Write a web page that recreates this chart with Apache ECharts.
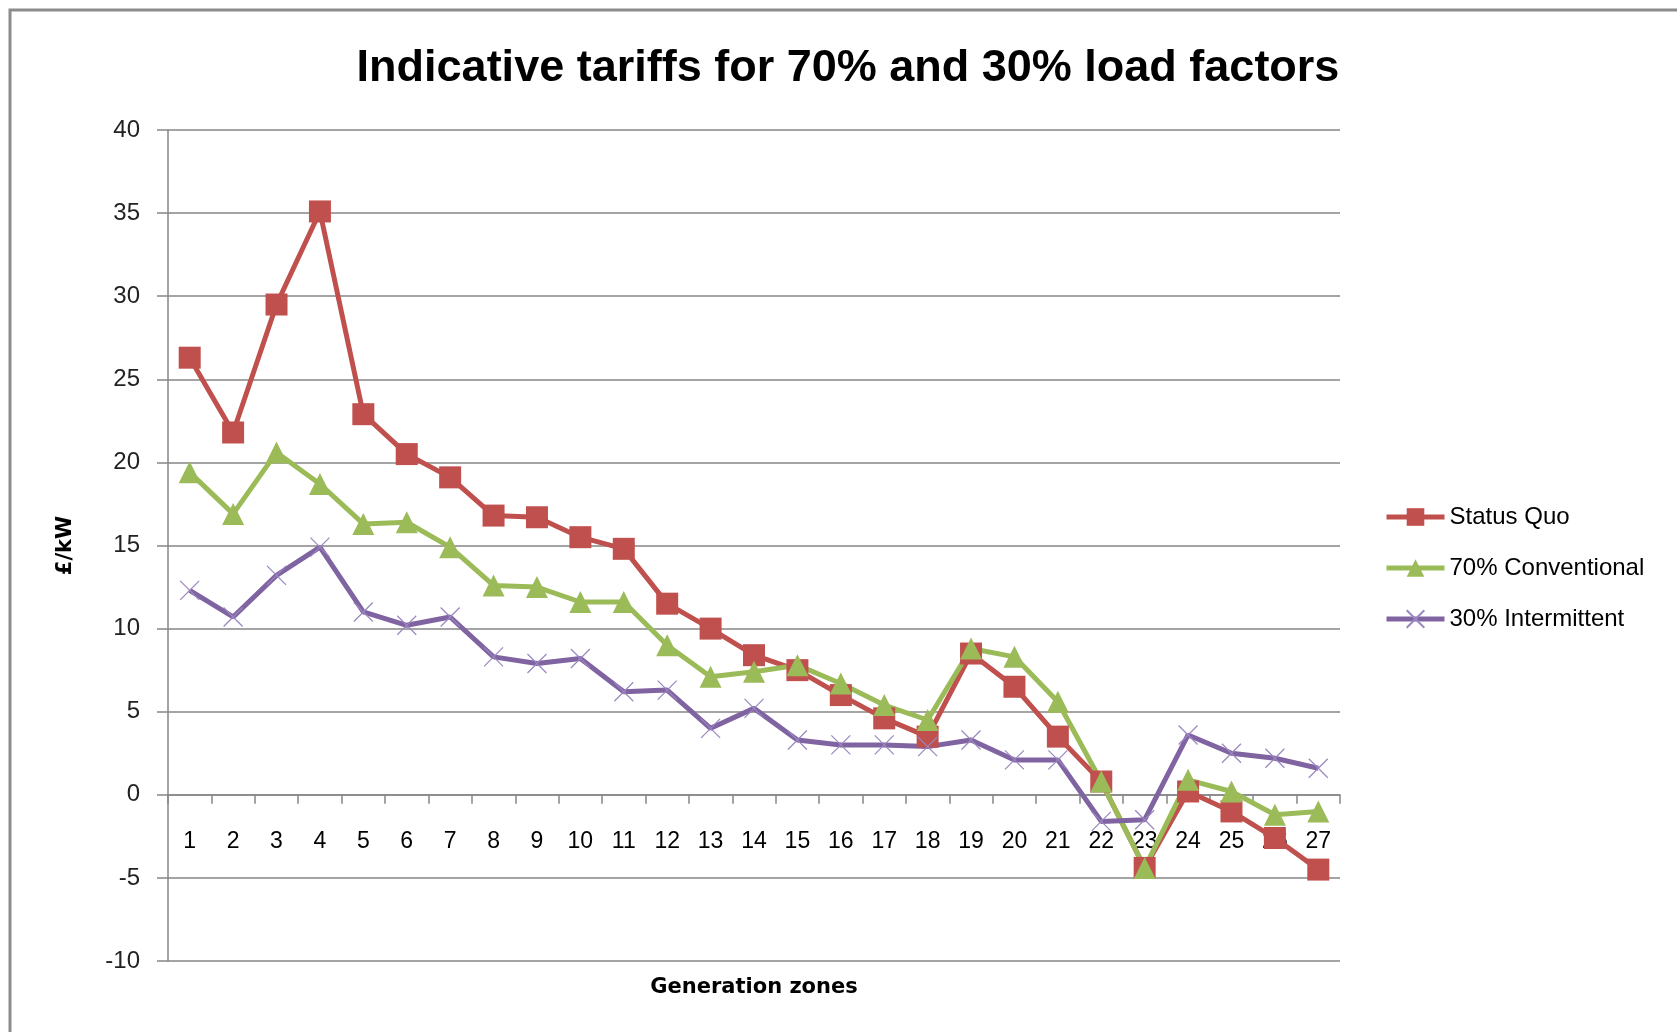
<!DOCTYPE html>
<html>
<head>
<meta charset="utf-8">
<script src="https://cdn.jsdelivr.net/npm/echarts@6/dist/echarts.min.js"></script>
<style>
html,body{margin:0;padding:0;background:#fff;}
#chart{width:1677px;height:1032px;}
</style>
</head>
<body>
<div id="chart"></div>
<script>
var titleText = 'Indicative tariffs for 70% and 30% load factors';
var xAxisName = 'Generation zones';
var yAxisName = '£/kW';
var categories = ['1','2','3','4','5','6','7','8','9','10','11','12','13','14','15','16','17','18','19','20','21','22','23','24','25','26','27'];
var seriesNames = ['Status Quo', '70% Conventional', '30% Intermittent'];
var statusQuo = [26.3, 21.8, 29.5, 35.1, 22.9, 20.5, 19.1, 16.8, 16.7, 15.5, 14.8, 11.5, 10.0, 8.4, 7.5, 6.0, 4.6, 3.5, 8.5, 6.5, 3.5, 0.8, -4.4, 0.2, -1.0, -2.6, -4.5];
var conventional70 = [19.4, 16.9, 20.6, 18.7, 16.3, 16.4, 14.9, 12.6, 12.5, 11.6, 11.6, 9.0, 7.1, 7.4, 7.8, 6.7, 5.4, 4.5, 8.8, 8.3, 5.6, 0.8, -4.4, 0.9, 0.2, -1.2, -1.0];
var intermittent30 = [12.3, 10.7, 13.2, 14.9, 11.0, 10.2, 10.7, 8.3, 7.9, 8.2, 6.2, 6.3, 4.0, 5.2, 3.3, 3.0, 3.0, 2.9, 3.3, 2.1, 2.1, -1.6, -1.5, 3.6, 2.5, 2.2, 1.6];
var yMin = -10, yMax = 40, yStep = 5;

var gridColor = '#868686';
var crossPath = 'path://M0,0L10,10M10,0L0,10';

var chart = echarts.init(document.getElementById('chart'), null, {renderer: 'canvas'});
chart.setOption({
  backgroundColor: '#ffffff',
  animation: false,
  title: {
    text: titleText,
    left: 843,
    top: 41,
    textAlign: 'center',
    textStyle: {fontFamily: 'Liberation Sans, Arial, sans-serif', fontWeight: 'bold', fontSize: 45, color: '#000'}
  },
  graphic: [{
    type: 'rect',
    shape: {x: 10, y: 10, width: 3000, height: 3000},
    style: {fill: 'none', stroke: '#8c8c8c', lineWidth: 3},
    silent: true
  }],
  legend: {
    orient: 'vertical',
    left: 1379,
    top: 500,
    itemWidth: 58,
    itemHeight: 22,
    itemGap: 27,
    lineStyle: {width: 'inherit'},
    textStyle: {fontFamily: 'Liberation Sans, Arial, sans-serif', fontSize: 24, color: '#000'},
    data: seriesNames
  },
  grid: {left: 168, right: 337, top: 130, bottom: 71, containLabel: false, outerBoundsMode: 'none'},
  xAxis: {
    type: 'category',
    data: categories,
    name: xAxisName,
    nameLocation: 'middle',
    nameGap: 182,
    nameTextStyle: {fontFamily: 'DejaVu Sans, sans-serif', fontWeight: 'bold', fontSize: 21, color: '#000'},
    axisLine: {onZero: false, lineStyle: {color: gridColor, width: 1.5}},
    axisTick: {show: true, length: 9, lineStyle: {color: gridColor, width: 1.5}},
    axisLabel: {margin: 35, fontFamily: 'Liberation Sans, Arial, sans-serif', fontSize: 23, color: '#000', interval: 0},
    splitLine: {show: false}
  },
  yAxis: {
    type: 'value',
    min: yMin,
    max: yMax,
    interval: yStep,
    name: yAxisName,
    nameLocation: 'middle',
    nameGap: 92,
    nameRotate: 90,
    nameTextStyle: {fontFamily: 'DejaVu Sans, sans-serif', fontWeight: 'bold', fontSize: 21, color: '#000'},
    axisLine: {show: true, lineStyle: {color: gridColor, width: 1.5}},
    axisTick: {show: true, length: 11, lineStyle: {color: gridColor, width: 1.5}},
    axisLabel: {margin: 28, fontFamily: 'Liberation Sans, Arial, sans-serif', fontSize: 24, color: '#222'},
    splitLine: {show: true, lineStyle: {color: gridColor, width: 1.5}}
  },
  series: [
    {
      name: seriesNames[0], type: 'line', data: statusQuo,
      symbol: 'rect', symbolSize: 22,
      lineStyle: {color: '#C0504D', width: 5},
      itemStyle: {color: '#C0504D'}
    },
    {
      name: seriesNames[1], type: 'line', data: conventional70,
      symbol: 'triangle', symbolSize: 22,
      lineStyle: {color: '#9BBB59', width: 5},
      itemStyle: {color: '#9BBB59'}
    },
    {
      name: seriesNames[2], type: 'line', data: intermittent30,
      symbol: crossPath, symbolSize: 19,
      lineStyle: {color: '#8064A2', width: 5},
      itemStyle: {color: '#8064A2', borderColor: '#9a86c0', borderWidth: 1.2}
    }
  ]
});
// Place the category axis (line, ticks, labels, name) on the y = 0 line of the value scale.
var zeroY = chart.convertToPixel({yAxisIndex: 0}, 0);
var bottomY = chart.convertToPixel({yAxisIndex: 0}, yMin);
chart.setOption({xAxis: {offset: zeroY - bottomY}});
</script>
</body>
</html>
